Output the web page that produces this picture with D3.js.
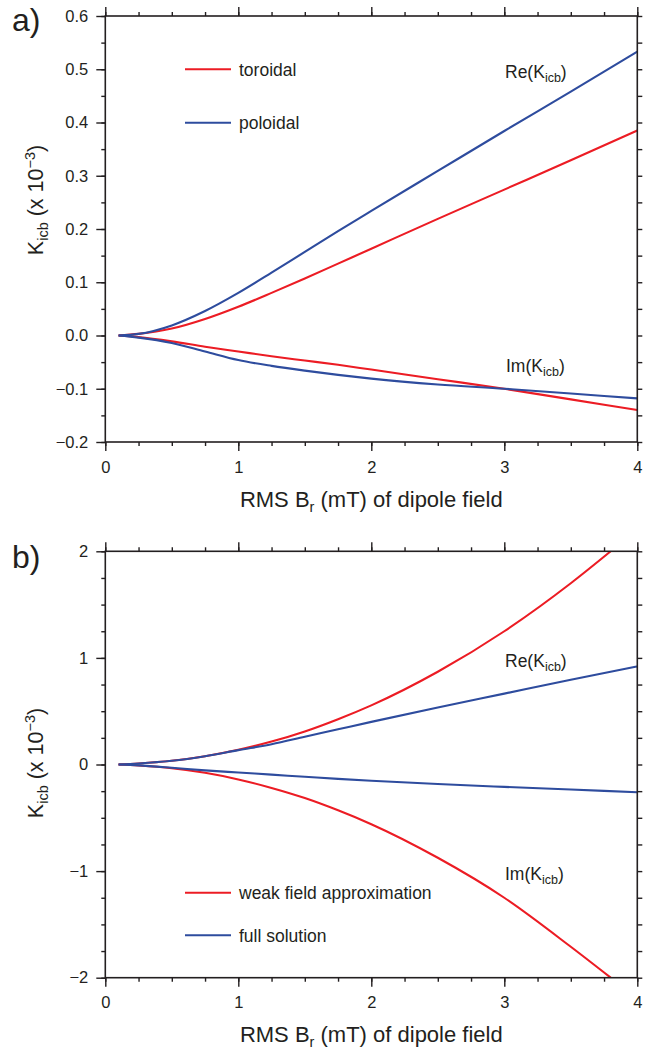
<!DOCTYPE html>
<html>
<head>
<meta charset="utf-8">
<script src="https://cdn.jsdelivr.net/npm/d3@7"></script>
<style>
  html, body { margin: 0; padding: 0; background: #ffffff; }
  svg { display: block; font-family: "Liberation Sans", Arial, Helvetica, sans-serif; }
</style>
</head>
<body>
<svg id="chart" width="656" height="1051"></svg>
<script>
// ---------------- DATA ----------------
// Panel a: x = RMS Br (mT); y = K_icb (x 1e-3)
const aB = [0.1, 0.25, 0.5, 0.75, 1.0, 1.25, 1.5, 1.75, 2.0, 2.5, 3.0, 3.5, 4.0];
const aToroidalRe = [0, 0.003, 0.013, 0.031, 0.054, 0.080, 0.107, 0.135, 0.163, 0.219, 0.274, 0.329, 0.385];
const aPoloidalRe = [0, 0.003, 0.019, 0.046, 0.080, 0.118, 0.157, 0.196, 0.234, 0.309, 0.384, 0.458, 0.533];
const aToroidalIm = [0, -0.003, -0.011, -0.021, -0.030, -0.039, -0.047, -0.055, -0.064, -0.082, -0.100, -0.120, -0.140];
const aPoloidalIm = [0, -0.004, -0.014, -0.030, -0.046, -0.057, -0.066, -0.074, -0.081, -0.092, -0.100, -0.109, -0.118];

// Panel b
const bBweak = [0.1, 0.25, 0.5, 0.75, 1.0, 1.25, 1.5, 1.75, 2.0, 2.5, 3.0, 3.5, 3.8];
const bWeakRe = [0, 0.010, 0.035, 0.078, 0.138, 0.215, 0.310, 0.425, 0.555, 0.870, 1.250, 1.700, 2.000];
const bWeakIm = [0, -0.010, -0.035, -0.078, -0.140, -0.220, -0.315, -0.430, -0.560, -0.875, -1.250, -1.710, -2.000];
const bBfull = [0.1, 0.25, 0.5, 0.75, 1.0, 1.25, 1.5, 1.75, 2.0, 2.5, 3.0, 3.5, 4.0];
const bFullRe = [0, 0.010, 0.035, 0.078, 0.135, 0.190, 0.260, 0.330, 0.400, 0.535, 0.665, 0.795, 0.920];
const bFullIm = [0, -0.008, -0.030, -0.055, -0.075, -0.095, -0.115, -0.135, -0.152, -0.183, -0.210, -0.235, -0.260];

// Ticks
const xMajor = [0, 1, 2, 3, 4];
const xMinor = d3.range(0, 4.0001, 0.25);
const aYMajor = [-0.2, -0.1, 0.0, 0.1, 0.2, 0.3, 0.4, 0.5, 0.6];
const aYMinor = d3.range(-0.2, 0.6001, 0.05);
const bYMajor = [-2, -1, 0, 1, 2];
const bYMinor = d3.range(-2, 2.0001, 0.25);

const legendA = ["toroidal", "poloidal"];
const legendB = ["weak field approximation", "full solution"];

// ---------------- STYLE ----------------
const RED = "#ec1c24";
const BLUE = "#2e4c9e";
const INK = "#231f20";

const svg = d3.select("#chart");
const X0 = 105.3, X1 = 637.3;

function drawPanel(cfg) {
  const x = d3.scaleLinear().domain([0, 4]).range([X0, X1]);
  const y = d3.scaleLinear().domain(cfg.yDomain).range([cfg.yBottom, cfg.yTop]);
  const g = svg.append("g");

  // clip
  const clipId = "clip" + cfg.id;
  svg.append("clipPath").attr("id", clipId).append("rect")
    .attr("x", X0).attr("y", cfg.yTop).attr("width", X1 - X0).attr("height", cfg.yBottom - cfg.yTop);

  // curves
  const line = d3.line().x(d => x(d[0])).y(d => y(d[1])).curve(d3.curveMonotoneX);
  cfg.series.forEach(s => {
    g.append("path")
      .attr("d", line(s.xs.map((v, i) => [v, s.ys[i]])))
      .attr("fill", "none").attr("stroke", s.color).attr("stroke-width", 2.1)
      .attr("stroke-linejoin", "round")
      .attr("clip-path", `url(#${clipId})`);
  });

  const styleAxis = sel => {
    sel.selectAll("line").attr("stroke", INK).attr("stroke-width", 1.4);
    sel.select(".domain").remove();
    sel.selectAll("text").attr("fill", INK).attr("font-size", 16.5)
      .attr("font-family", '"Liberation Sans", Arial, Helvetica, sans-serif');
  };

  // left
  g.append("g").attr("transform", `translate(${X0},0)`)
    .call(d3.axisLeft(y).tickValues(cfg.yMajor).tickSize(9).tickPadding(8).tickFormat(cfg.yFmt))
    .call(styleAxis);
  g.append("g").attr("transform", `translate(${X0},0)`)
    .call(d3.axisLeft(y).tickValues(cfg.yMinor).tickSize(4).tickFormat(""))
    .call(styleAxis);
  // right
  g.append("g").attr("transform", `translate(${X1},0)`)
    .call(d3.axisRight(y).tickValues(cfg.yMinor).tickSize(5).tickFormat(""))
    .call(styleAxis);
  // bottom
  g.append("g").attr("transform", `translate(0,${cfg.yBottom})`)
    .call(d3.axisBottom(x).tickValues(xMajor).tickSize(9).tickPadding(10).tickFormat(d3.format("d")))
    .call(styleAxis);
  g.append("g").attr("transform", `translate(0,${cfg.yBottom})`)
    .call(d3.axisBottom(x).tickValues(xMinor).tickSize(4).tickFormat(""))
    .call(styleAxis);
  // top
  g.append("g").attr("transform", `translate(0,${cfg.yTop})`)
    .call(d3.axisTop(x).tickValues(xMajor).tickSize(9).tickFormat(""))
    .call(styleAxis);
  g.append("g").attr("transform", `translate(0,${cfg.yTop})`)
    .call(d3.axisTop(x).tickValues(xMinor).tickSize(4).tickFormat(""))
    .call(styleAxis);

  // frame
  g.append("rect").attr("x", X0).attr("y", cfg.yTop)
    .attr("width", X1 - X0).attr("height", cfg.yBottom - cfg.yTop)
    .attr("fill", "none").attr("stroke", INK).attr("stroke-width", 1.6);

  // panel label
  g.append("text").attr("x", 12).attr("y", cfg.labelY).attr("font-size", 32)
    .attr("fill", INK).text(cfg.label);

  // x title
  const xt = g.append("text").attr("x", (X0 + X1) / 2).attr("y", cfg.yBottom + 64.5)
    .attr("text-anchor", "middle").attr("font-size", 22).attr("fill", INK);
  xt.append("tspan").text("RMS B");
  xt.append("tspan").attr("font-size", 14.5).attr("dy", 5).text("r");
  xt.append("tspan").attr("dy", -5).text(" (mT) of dipole field");

  // y title
  const yt = g.append("text")
    .attr("transform", `translate(43,${cfg.yTitleCenter}) rotate(-90)`)
    .attr("text-anchor", "middle").attr("font-size", 21.5).attr("fill", INK);
  yt.append("tspan").text("K");
  yt.append("tspan").attr("font-size", 14.5).attr("dy", 5).text("icb");
  yt.append("tspan").attr("dy", -5).text(" (x 10");
  yt.append("tspan").attr("font-size", 14.5).attr("dy", -8).text("\u22123");
  yt.append("tspan").attr("dy", 8).text(")");

  // legend
  cfg.legend.forEach((name, i) => {
    const ly = cfg.legendY[i];
    g.append("line").attr("x1", 185).attr("x2", 231).attr("y1", ly).attr("y2", ly)
      .attr("stroke", i === 0 ? RED : BLUE).attr("stroke-width", 2);
    g.append("text").attr("x", 239).attr("y", ly + 6.5).attr("font-size", 17.5)
      .attr("fill", INK).text(name);
  });

  // curve labels
  cfg.curveLabels.forEach(c => {
    const t = g.append("text").attr("x", c.x).attr("y", c.y).attr("font-size", 17.5).attr("fill", INK);
    t.append("tspan").text(c.pre + "(K");
    t.append("tspan").attr("font-size", 12.5).attr("dy", 4).text("icb");
    t.append("tspan").attr("dy", -4).text(")");
  });
}

drawPanel({
  id: "a", label: "a)", labelY: 31,
  yDomain: [-0.2, 0.6], yTop: 16, yBottom: 442,
  yMajor: aYMajor, yMinor: aYMinor, yFmt: d3.format(".1f"),
  yTitleCenter: 200,
  series: [
    { xs: aB, ys: aToroidalRe, color: RED },
    { xs: aB, ys: aToroidalIm, color: RED },
    { xs: aB, ys: aPoloidalRe, color: BLUE },
    { xs: aB, ys: aPoloidalIm, color: BLUE }
  ],
  legend: legendA, legendY: [69.3, 122.7],
  curveLabels: [{ pre: "Re", x: 505, y: 78 }, { pre: "Im", x: 506, y: 371.7 }]
});

drawPanel({
  id: "b", label: "b)", labelY: 568,
  yDomain: [-2, 2], yTop: 551.3, yBottom: 977.7,
  yMajor: bYMajor, yMinor: bYMinor, yFmt: d3.format("d"),
  yTitleCenter: 763,
  series: [
    { xs: bBweak, ys: bWeakRe, color: RED },
    { xs: bBweak, ys: bWeakIm, color: RED },
    { xs: bBfull, ys: bFullRe, color: BLUE },
    { xs: bBfull, ys: bFullIm, color: BLUE }
  ],
  legend: legendB, legendY: [892.7, 935.3],
  curveLabels: [{ pre: "Re", x: 505, y: 666.7 }, { pre: "Im", x: 505, y: 880 }]
});
</script>
</body>
</html>
